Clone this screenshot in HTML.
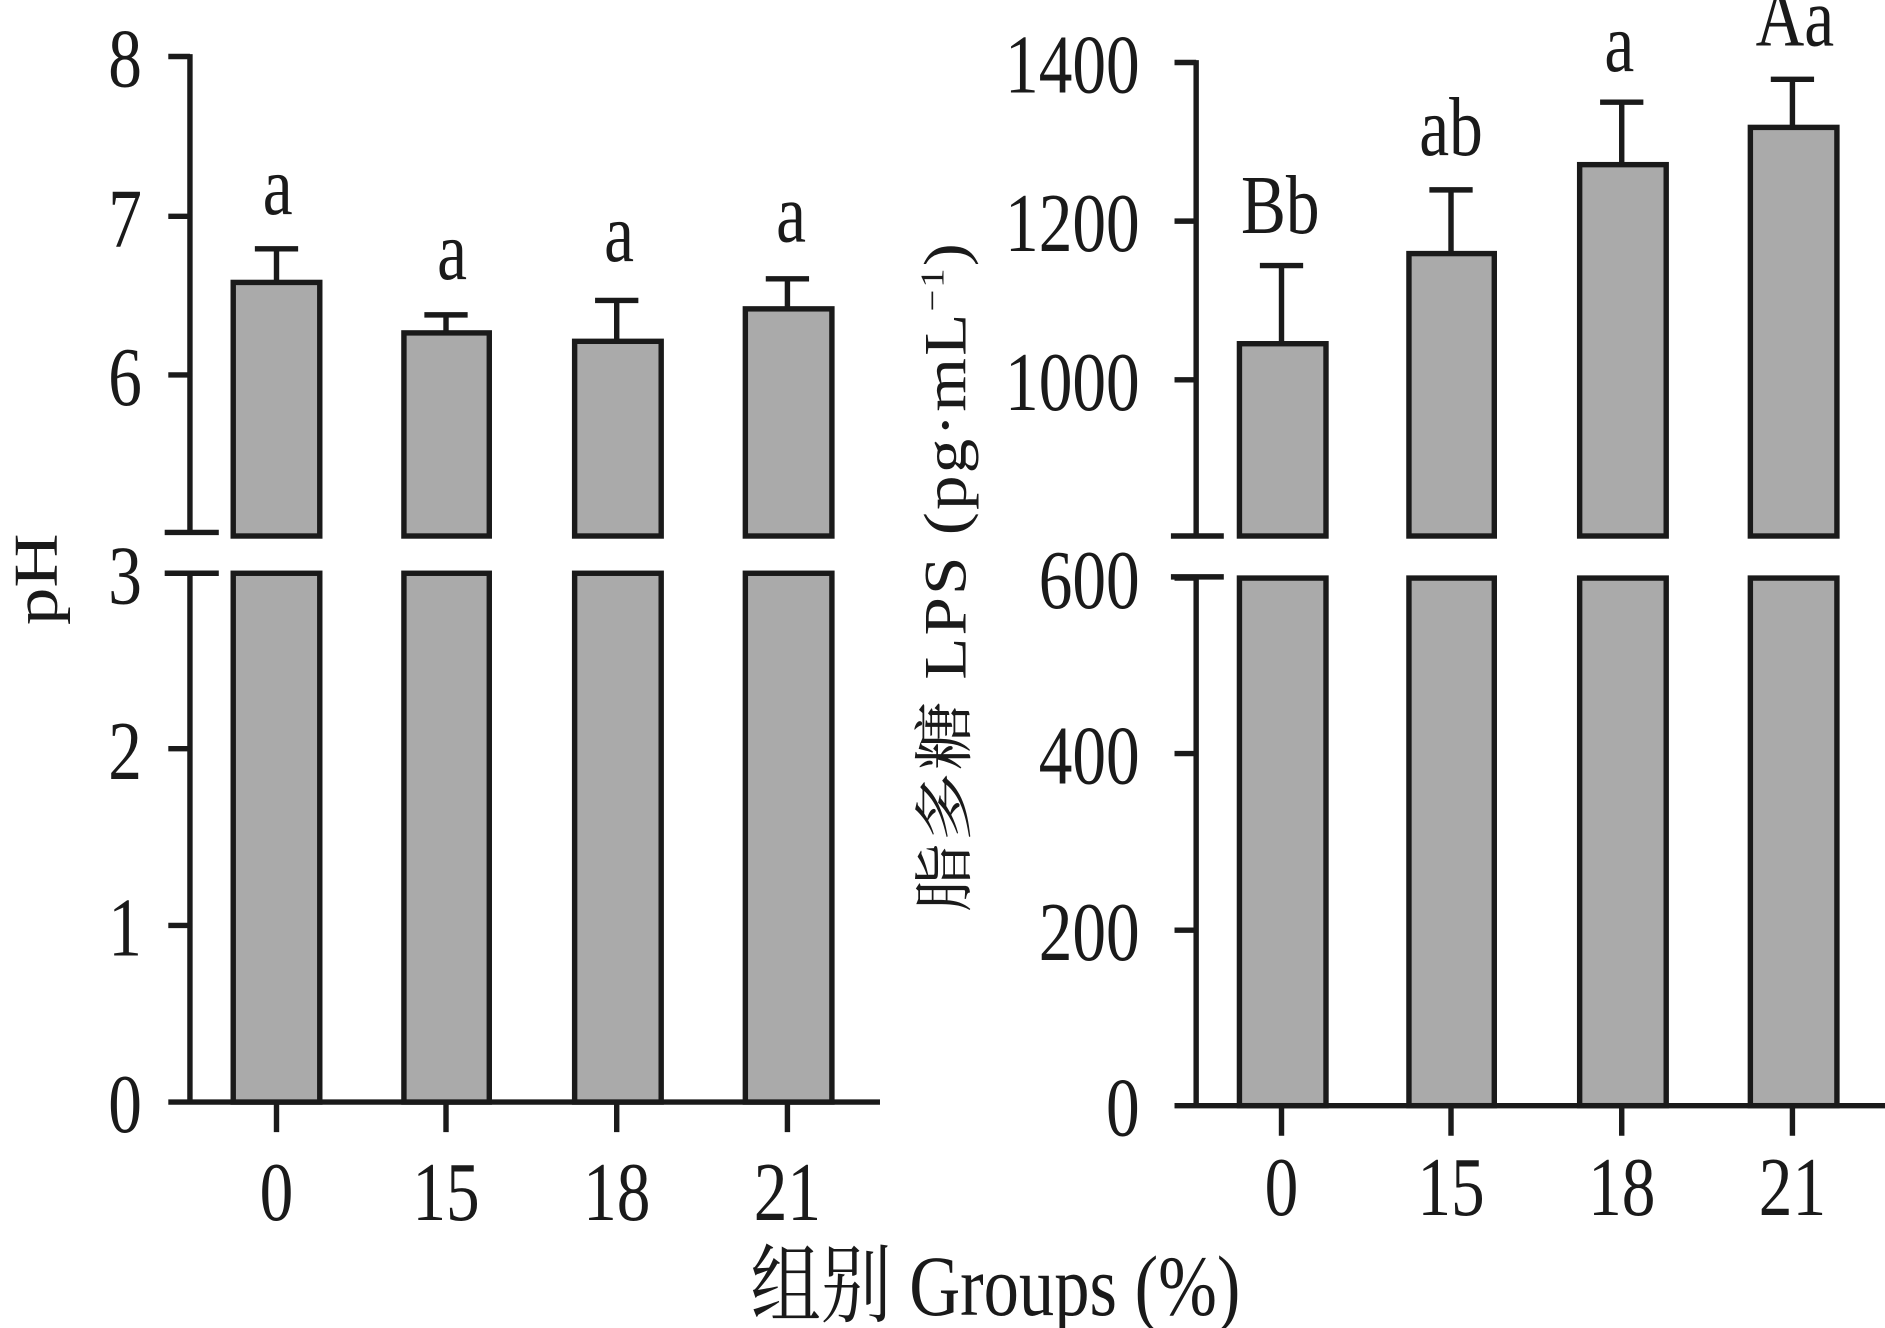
<!DOCTYPE html><html><head><style>body{margin:0;background:#fff}svg{display:block}</style></head><body>
<svg width="1885" height="1328" viewBox="0 0 1568 1105" preserveAspectRatio="none" font-family="'Liberation Serif','Noto Serif CJK SC',serif" font-size="56" fill="#1a1a1a">
<g stroke="#1a1a1a" stroke-width="4.5" fill="none">
<path d="M158 45V443M158 478V917H732M140 47H158M140 180H158M140 312H158M140 477H158M140 623H158M140 770H158M140 917H158M137 443H182M137 477H182"/>
<path d="M230 917V942M371 917V942M513 917V942M655 917V942"/>
<path d="M995 50V446M995 481V920H1568M977 52H995M977 184H995M977 316H995M977 481H995M977 627H995M977 774H995M977 920H995M974 446H1018M974 480H1018"/>
<path d="M1066 920V945M1207 920V945M1349 920V945M1491 920V945"/>
</g>
<g stroke="#1a1a1a" stroke-width="4.5" fill="#aaa">
<rect x="194" y="235" width="72" height="211"/><rect x="336" y="277" width="71" height="169"/><rect x="478" y="284" width="72" height="162"/><rect x="620" y="257" width="72" height="189"/>
<rect x="194" y="477" width="72" height="440"/><rect x="336" y="477" width="71" height="440"/><rect x="478" y="477" width="72" height="440"/><rect x="620" y="477" width="72" height="440"/>
<rect x="1031" y="286" width="72" height="160"/><rect x="1172" y="211" width="71" height="235"/><rect x="1314" y="137" width="72" height="309"/><rect x="1456" y="106" width="72" height="340"/>
<rect x="1031" y="481" width="72" height="439"/><rect x="1172" y="481" width="71" height="439"/><rect x="1314" y="481" width="72" height="439"/><rect x="1456" y="481" width="72" height="439"/>
<path fill="none" d="M230 235V207M212 207H248M371 277V262M353 262H389M513 284V250M495 250H531M655 257V232M637 232H673M1066 286V221M1048 221H1084M1207 211V158M1189 158H1225M1349 137V85M1331 85H1367M1491 106V66M1473 66H1509"/>
</g>
<g text-anchor="middle">
<text transform="translate(231 178) scale(1,1.25)">a</text><text transform="translate(376 232) scale(1,1.25)">a</text><text transform="translate(515 217) scale(1,1.25)">a</text><text transform="translate(658 201) scale(1,1.25)">a</text>
<text transform="translate(1065 194) scale(1,1.25)">Bb</text><text transform="translate(1207 129) scale(1,1.25)">ab</text><text transform="translate(1347 59) scale(1,1.25)">a</text><text transform="translate(1493 38) scale(1,1.25)">Aa</text>
<text transform="translate(230 1015) scale(1,1.25)">0</text><text transform="translate(371 1015) scale(1,1.25)">15</text><text transform="translate(513 1015) scale(1,1.25)">18</text><text transform="translate(655 1015) scale(1,1.25)">21</text>
<text transform="translate(1066 1011) scale(1,1.25)">0</text><text transform="translate(1207 1011) scale(1,1.25)">15</text><text transform="translate(1349 1011) scale(1,1.25)">18</text><text transform="translate(1491 1011) scale(1,1.25)">21</text>
<text transform="translate(828 1094) scale(1.03,1.25)" font-size="57">组别 Groups (%)</text>
</g>
<g text-anchor="end">
<text transform="translate(118 72) scale(1,1.25)">8</text><text transform="translate(118 205) scale(1,1.25)">7</text><text transform="translate(118 337) scale(1,1.25)">6</text><text transform="translate(118 502) scale(1,1.25)">3</text><text transform="translate(118 648) scale(1,1.25)">2</text><text transform="translate(118 795) scale(1,1.25)">1</text><text transform="translate(118 942) scale(1,1.25)">0</text>
<text transform="translate(948 77) scale(1,1.25)">1400</text><text transform="translate(948 209) scale(1,1.25)">1200</text><text transform="translate(948 341) scale(1,1.25)">1000</text><text transform="translate(948 506) scale(1,1.25)">600</text><text transform="translate(948 652) scale(1,1.25)">400</text><text transform="translate(948 799) scale(1,1.25)">200</text><text transform="translate(948 945) scale(1,1.25)">0</text>
</g>
<text transform="translate(47 482) rotate(-90) scale(1.2,1)" text-anchor="middle" font-size="52">pH</text>
<text transform="translate(803 480) rotate(-90) scale(1.15,1)" text-anchor="middle" font-size="50" letter-spacing="1.5">脂多糖 LPS (pg·mL<tspan font-size="28" dy="-18">−1</tspan><tspan dy="18">)</tspan></text>
</svg></body></html>
